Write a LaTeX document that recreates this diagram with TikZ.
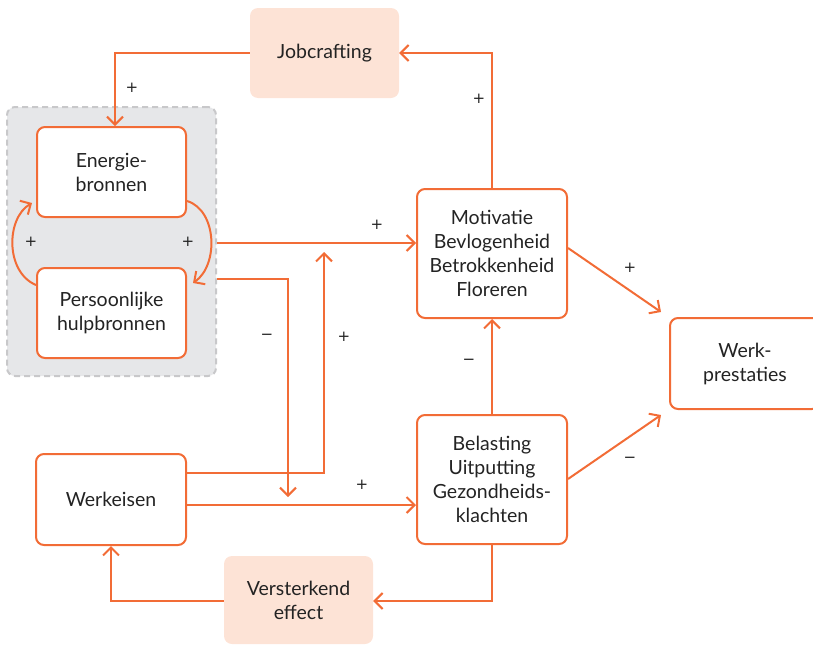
\documentclass[tikz,border=0pt]{standalone}
\usepackage{fontspec}
\setmainfont{Lato}
\newfontfamily\signfont{DejaVu Sans}
\usetikzlibrary{arrows.meta}
\definecolor{org}{RGB}{242,108,54}
\definecolor{peach}{RGB}{253,227,214}
\definecolor{grp}{RGB}{230,231,233}
\definecolor{grpline}{RGB}{200,200,202}
\definecolor{txt}{RGB}{35,35,35}
\begin{document}
\begin{tikzpicture}[x=1pt,y=-1pt,
  box/.style={draw=org,line width=2pt,rounded corners=8pt,fill=white,align=center,
    text=txt,font=\fontsize{19.5}{24}\selectfont,inner sep=0pt},
  softbox/.style={fill=peach,rounded corners=8pt,align=center,text=txt,
    font=\fontsize{19.5}{24}\selectfont,inner sep=0pt},
  arr/.style={draw=org,line width=2pt,-{Straight Barb[length=8pt,width=16pt,line width=2pt]}},
  sign/.style={text=txt,font=\signfont\fontsize{15}{15}\selectfont,inner sep=0pt}]
\useasboundingbox (0,0) rectangle (813,645);
\clip (0,0) rectangle (813,645);
% group
\node[draw=grpline,line width=2pt,dash pattern=on 6pt off 4pt,fill=grp,rounded corners=8pt,
  minimum width=209pt,minimum height=269pt,inner sep=0pt] (G) at (111.5,241.5) {};
% nodes
\node[softbox,minimum width=149pt,minimum height=90pt] (J) at (324.5,53) {Jobcrafting};
\node[box,minimum width=149pt,minimum height=90pt] (E) at (111.5,172) {Energie-\\bronnen};
\node[box,minimum width=149pt,minimum height=90pt] (P) at (111.5,313) {Persoonlijke\\hulpbronnen};
\node[box,minimum width=150pt,minimum height=129pt] (M) at (492,253.5) {Motivatie\\Bevlogenheid\\Betrokkenheid\\Floreren};
\node[box,minimum width=150pt,minimum height=129pt] (B) at (492,479.5) {Belasting\\Uitputting\\Gezondheids-\\klachten};
\node[box,minimum width=150pt,minimum height=91pt] (W) at (745,363.5) {Werk-\\prestaties};
\node[box,minimum width=150pt,minimum height=91pt] (K) at (111,499.5) {Werkeisen};
\node[softbox,minimum width=149pt,minimum height=88pt] (V) at (298.5,600) {Versterkend\\effect};
% coordinates
\coordinate (jd) at (115,53);
\coordinate (e1) at (E.east |- 0,201);
\coordinate (p1) at (193,283);
\coordinate (p2) at (P.west |- 0,285);
\coordinate (e2) at (32,203);
\coordinate (g1) at (G.east |- 0,243);
\coordinate (g2) at (G.east |- 0,279);
\coordinate (c6) at (288,279);
\coordinate (t6) at (288,497);
\coordinate (k1) at (K.east |- 0,473);
\coordinate (c7) at (324,473);
\coordinate (t7) at (324,252);
\coordinate (k2) at (K.east |- 0,505);
\coordinate (m1) at (M.east |- 0,248);
\coordinate (w1) at (661,312);
\coordinate (b1) at (B.east |- 0,479);
\coordinate (w2) at (661,415);
\coordinate (b2) at (492,601);
\coordinate (v2) at (111,601);
% connectors
\draw[arr] (J.west) -- (jd) -- (jd |- E.north);
\draw[arr] (M.north) |- (J.east);
\draw[arr] (e1) .. controls (217,210) and (219,265) .. (p1);
\draw[arr] (p2) .. controls (5,272) and (6,218) .. (e2);
\draw[arr] (g1) -- (M.west |- g1);
\draw[arr] (g2) -- (c6) -- (t6);
\draw[arr] (k1) -- (c7) -- (t7);
\draw[arr] (k2) -- (B.west |- k2);
\draw[arr] (B.north) -- (M.south);
\draw[arr] (m1) -- (w1);
\draw[arr] (b1) -- (w2);
\draw[arr] (B.south) -- (b2) -- (V.east |- b2);
\draw[arr] (V.west |- b2) -- (v2) -- (K.south);
% signs
\node[sign] (s1) at (132,88) {+};
\node[sign] (s2) at (479,99) {+};
\node[sign] (s3) at (31,242) {+};
\node[sign] (s4) at (188,242) {+};
\node[sign] (s5) at (377,225) {+};
\node[sign] (s6) at (267,337) {−};
\node[sign] (s7) at (344,337) {+};
\node[sign] (s8) at (362,485) {+};
\node[sign] (s9) at (469,362) {−};
\node[sign] (s10) at (630,268) {+};
\node[sign] (s11) at (630,460) {−};
\end{tikzpicture}
\end{document}
